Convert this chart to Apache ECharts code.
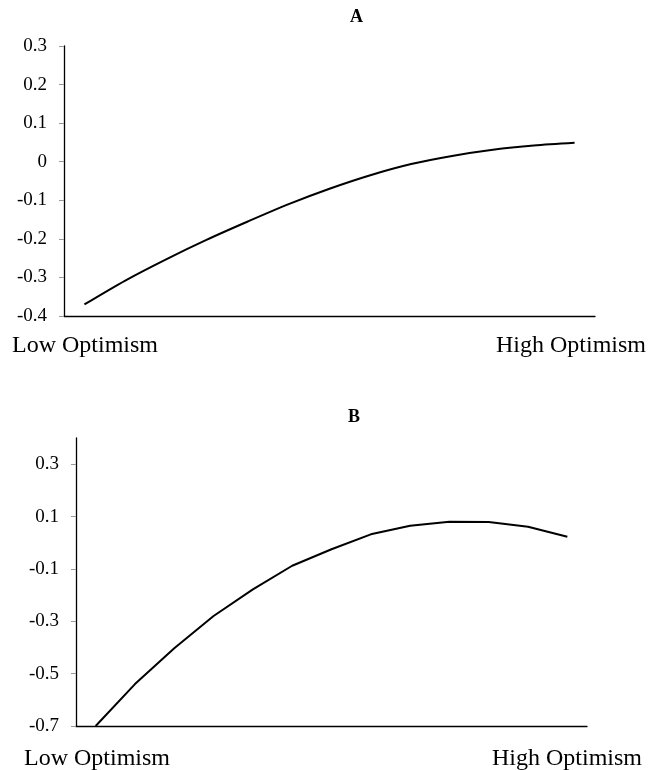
<!DOCTYPE html>
<html>
<head>
<meta charset="utf-8">
<script src="https://cdn.jsdelivr.net/npm/echarts@6/dist/echarts.min.js"></script>
<style>
  html, body { margin: 0; padding: 0; background: #fff; }
  #chart { width: 651px; height: 770px; }
</style>
</head>
<body>
<div id="chart"></div>
<script>
// optimism levels, low to high (13 steps)
const levels = ['1', '2', '3', '4', '5', '6', '7', '8', '9', '10', '11', '12', '13'];

// panel A
const valuesA = [-0.370, -0.308, -0.253, -0.202, -0.155, -0.110, -0.070, -0.035, -0.006, 0.015, 0.031, 0.042, 0.049];
// panel B
const valuesB = [-0.700, -0.540, -0.403, -0.280, -0.178, -0.088, -0.025, 0.032, 0.065, 0.080, 0.079, 0.061, 0.023];

const ticksB = [-0.7, -0.5, -0.3, -0.1, 0.1, 0.3];
const endLabels = ['Low Optimism', 'High Optimism'];
const panelNames = ['A', 'B'];

const serif = '"Liberation Serif", "Times New Roman", serif';

const chart = echarts.init(document.getElementById('chart'));

const tickLabel = { color: '#000', fontFamily: serif, fontSize: 19, margin: 17 };
const tickStyle = { show: true, length: 5, lineStyle: { color: '#999' } };
const axisLine = { show: true, onZero: false, lineStyle: { color: '#000', width: 1.3 } };

const endText = (text, pos) => Object.assign({
  text: text,
  textStyle: { fontFamily: serif, fontSize: 24, fontWeight: 'normal', color: '#000' }
}, pos);

const option = {
  animation: false,
  backgroundColor: '#fff',
  title: [
    { text: panelNames[0], left: 345, top: 3, textStyle: { fontFamily: serif, fontSize: 18, fontWeight: 'bold', color: '#000' } },
    { text: panelNames[1], left: 343, top: 403, textStyle: { fontFamily: serif, fontSize: 18, fontWeight: 'bold', color: '#000' } },
    endText(endLabels[0], { left: 7, top: 329 }),
    endText(endLabels[1], { right: 0, top: 329 }),
    endText(endLabels[0], { left: 19, top: 742 }),
    endText(endLabels[1], { right: 4, top: 742 })
  ],
  grid: [
    { left: 64, right: 56, top: 46, bottom: 454 },
    { left: 76, right: 64, top: 438, bottom: 44 }
  ],
  xAxis: [
    { type: 'category', gridIndex: 0, data: levels, boundaryGap: true,
      axisLine: axisLine, axisTick: { show: false }, axisLabel: { show: false } },
    { type: 'category', gridIndex: 1, data: levels, boundaryGap: true,
      axisLine: axisLine, axisTick: { show: false }, axisLabel: { show: false } }
  ],
  yAxis: [
    { type: 'value', gridIndex: 0, min: -0.4, max: 0.3, interval: 0.1,
      axisLine: axisLine, axisTick: tickStyle, axisLabel: tickLabel,
      splitLine: { show: false } },
    { type: 'value', gridIndex: 1, min: -0.7, max: 0.4,
      axisLine: axisLine,
      axisTick: Object.assign({ customValues: ticksB }, tickStyle),
      axisLabel: Object.assign({ customValues: ticksB }, tickLabel),
      splitLine: { show: false } }
  ],
  series: [
    { type: 'line', xAxisIndex: 0, yAxisIndex: 0, data: valuesA, smooth: 0.3,
      showSymbol: false, lineStyle: { color: '#000', width: 2 } },
    { type: 'line', xAxisIndex: 1, yAxisIndex: 1, data: valuesB,
      showSymbol: false, lineStyle: { color: '#000', width: 2 } }
  ]
};

chart.setOption(option);
</script>
</body>
</html>
